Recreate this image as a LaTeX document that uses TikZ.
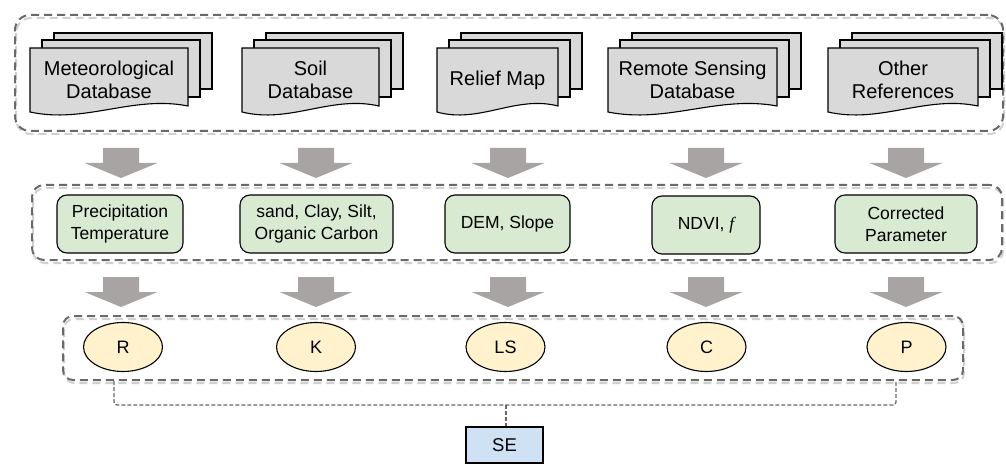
\documentclass[tikz,border=0pt]{standalone}
\usepackage{fontspec}
\setmainfont{Liberation Sans}
\newfontfamily\serifit{Liberation Serif}
\usetikzlibrary{shapes.geometric}
\definecolor{docgray}{RGB}{217,217,217}
\definecolor{arrgray}{RGB}{168,164,164}
\definecolor{dashgray}{RGB}{105,105,105}
\definecolor{shadgray}{RGB}{208,208,208}
\definecolor{greenfill}{RGB}{217,234,211}
\definecolor{yellowfill}{RGB}{255,242,204}
\definecolor{bluefill}{RGB}{207,226,243}
\newcommand\docstack[4]{%
  \pgfmathsetmacro\dsA{#2}\pgfmathsetmacro\dsB{#3}%
  \draw[sheet] (\dsA+24,33) rectangle (\dsB+24,89);
  \draw[sheet] (\dsA+12,40) rectangle (\dsB+12,97);
  \draw[sheet] (\dsA,48) -- (\dsB,48) -- (\dsB,106)
     .. controls ({\dsA+0.65*(\dsB-\dsA)},95) and ({\dsA+0.35*(\dsB-\dsA)},124) .. (\dsA,112) -- cycle;
  \node[doclabel] (#1) at ({(\dsA+\dsB)/2},80) {#4};
}
\begin{document}
\begin{tikzpicture}[x=1pt,y=-1pt,
  sheet/.style={draw=black, line width=1.1pt, fill=docgray},
  doclabel/.style={font=\fontsize{20}{23}\selectfont, align=center, inner sep=0pt},
  cont/.style={draw=dashgray, line width=2pt, dash pattern=on 8pt off 5pt},
  contshadow/.style={draw=shadgray, line width=2pt, dash pattern=on 8pt off 5pt},
  greenbox/.style={draw=black, line width=1.1pt, fill=greenfill, rounded corners=10pt,
     minimum height=58pt, align=center, inner sep=0pt, font=\fontsize{17.5}{22.5}\selectfont},
  factor/.style={ellipse, draw=black, line width=1.1pt, fill=yellowfill,
     minimum width=79pt, minimum height=49pt, inner sep=0pt, font=\fontsize{18}{20}\selectfont},
  result/.style={draw=black, line width=1.1pt, fill=bluefill,
     minimum width=77pt, minimum height=36pt, inner sep=0pt, font=\fontsize{18.5}{20}\selectfont},
  bus/.style={draw=dashgray, line width=1.3pt, dash pattern=on 4pt off 2pt},
  blockarr/.pic={\fill[arrgray] (-18,0) -- (18,0) -- (18,15) -- (36.5,15) -- (0,30)
      -- (-36.5,15) -- (-18,15) -- cycle;}
]
\useasboundingbox (0,0) rectangle (1006,465);

% containers
\draw[contshadow, rounded corners=15pt] (16,18) rectangle (1004,134);
\node[cont, rounded corners=15pt, minimum width=988pt, minimum height=116pt, inner sep=0pt] (topbox) at (509,73) {};
\draw[contshadow, rounded corners=12pt] (33,188) rectangle (1003,263);
\node[cont, rounded corners=12pt, minimum width=970pt, minimum height=75pt, inner sep=0pt] (midbox) at (517,222.5) {};
\draw[contshadow, rounded corners=10pt] (64,319) rectangle (964,383);
\node[cont, rounded corners=10pt, minimum width=900pt, minimum height=64pt, inner sep=0pt] (lowbox) at (513,348) {};

% documents
\docstack{met}{30}{188}{Meteorological\\Database}
\docstack{soil}{242}{379}{Soil\\Database}
\docstack{relief}{437}{558}{Relief Map}
\docstack{rs}{608}{777}{Remote Sensing\\Database}
\docstack{other}{828}{978}{Other\\References}

% block arrows
\foreach \ax in {121,316,508,706,906} {
  \pic at (\ax,148) {blockarr};
  \pic at (\ax,277) {blockarr};
}

% row 2
\node[greenbox, minimum width=126pt] (prec) at (120,224) {Precipitation\\Temperature};
\node[greenbox, minimum width=153pt] (sand) at (316.5,224) {sand, Clay, Silt,\\Organic Carbon};
\node[greenbox, minimum width=125pt] (dem) at (507.5,224) {DEM, Slope};
\node[greenbox, minimum width=108pt] (ndvi) at (706,225) {NDVI, {\serifit\itshape f}};
\node[greenbox, minimum width=142pt] (corr) at (906,224) {Corrected\\Parameter};

% row 3
\node[factor] (R) at (123,347) {R};
\node[factor] (K) at (316,347) {K};
\node[factor] (LS) at (505.5,347) {LS};
\node[factor] (C) at (706.5,347) {C};
\node[factor] (P) at (906.5,347) {P};

% result
\node[result] (SE) at (504.5,445) {SE};

% bus
\coordinate (bl) at (114,381);
\coordinate (br) at (896,381);
\coordinate (bm) at (506,405);
\draw[bus, rounded corners=3pt] (bl) -- (bl |- bm) -- (br |- bm) -- (br);
\draw[bus] (bm) -- (bm |- SE.north);
\end{tikzpicture}
\end{document}
